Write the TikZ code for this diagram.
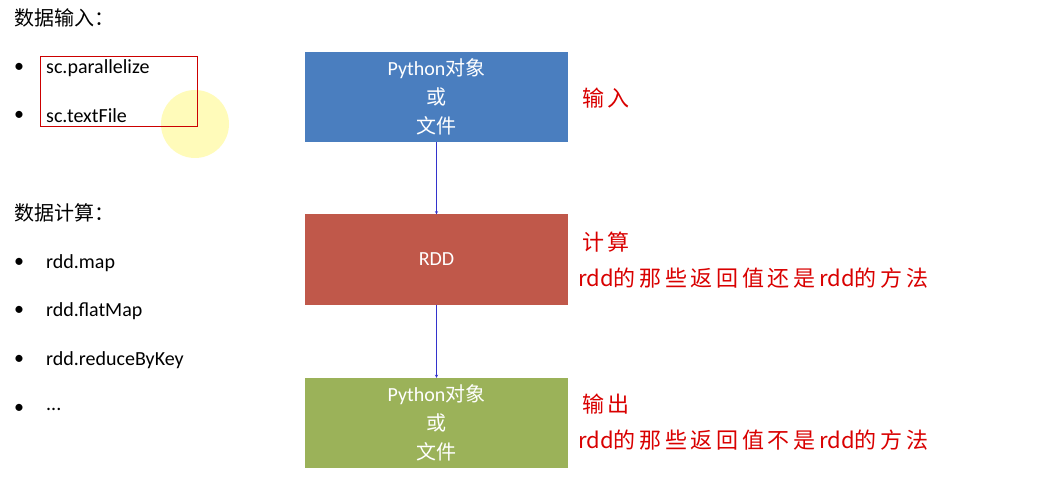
\documentclass[tikz,border=0pt]{standalone}
\usepackage{fontspec}
\setmainfont{Carlito}
\newfontfamily\cjk{Noto Sans CJK SC}
\begin{document}
\begin{tikzpicture}[x=1pt,y=-1pt,
 box/.style={draw=none,minimum width=263pt,minimum height=90pt,inner sep=0pt,text=white,font=\fontsize{20}{29}\selectfont,align=center},
 lbl/.style={anchor=west,inner sep=0pt,font=\fontsize{20}{20}\selectfont},
 rl/.style={anchor=west,inner sep=0pt,text=red!85!black,font=\cjk\fontsize{22}{22}\selectfont},
 arr/.style={draw=blue!60!gray,-{stealth},thin}]
\useasboundingbox (0,0) rectangle (1052,489);
\fill[white] (0,0) rectangle (1052,489);
\fill[yellow!60,opacity=0.45] (195,124) circle (34);
\node[lbl] (h1) at (14,18) {\cjk 数据输入：};
\node[lbl] (b1) at (14,68) {•};
\node[lbl] (t1) at (46,68) {sc.parallelize};
\node[lbl] (b2) at (14,116) {•};
\node[lbl] (t2) at (46,116) {sc.textFile};
\draw[red!80!black,thin] (40,56) rectangle (197,126);
\node[lbl] (h2) at (14,213) {\cjk 数据计算：};
\node[lbl] (b3) at (14,263) {•}; \node[lbl] (t3) at (46,263) {rdd.map};
\node[lbl] (b4) at (14,311) {•}; \node[lbl] (t4) at (46,311) {rdd.flatMap};
\node[lbl] (b5) at (14,360) {•}; \node[lbl] (t5) at (46,360) {rdd.reduceByKey};
\node[lbl] (b6) at (14,409) {•}; \node[lbl] (t6) at (46,409) {...};
\node[box,fill={rgb,255:red,74;green,126;blue,191}] (in) at (436.5,97) {Python{\cjk 对象}\\{\cjk 或}\\{\cjk 文件}};
\node[box,fill={rgb,255:red,192;green,88;blue,74}] (rdd) at (436.5,259.5) {RDD};
\node[box,fill={rgb,255:red,155;green,178;blue,89}] (out) at (436.5,423) {Python{\cjk 对象}\\{\cjk 或}\\{\cjk 文件}};
\draw[arr] (in) -- (rdd);
\draw[arr] (rdd) -- (out);
\node[rl] (r1) at (582,98) {输\,入};
\node[rl] (r2) at (582,242) {计\,算};
\node[rl] (r3) at (578,278) {rdd的\,那\,些\,返\,回\,值\,还\,是\,rdd的\,方\,法};
\node[rl] (r4) at (582,404) {输\,出};
\node[rl] (r5) at (578,440) {rdd的\,那\,些\,返\,回\,值\,不\,是\,rdd的\,方\,法};
\end{tikzpicture}
\end{document}
